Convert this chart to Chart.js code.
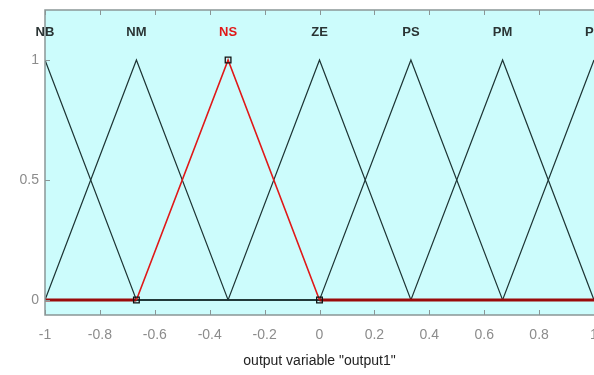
<!DOCTYPE html>
<html>
<head>
<meta charset="utf-8">
<script src="https://cdn.jsdelivr.net/npm/chart.js@4.4.1/dist/chart.umd.min.js"></script>
<style>
  html, body { margin: 0; padding: 0; background: #fff; }
</style>
</head>
<body>
<canvas id="myChart" width="594" height="375"></canvas>
<script>
// membership functions of the output variable (trimf a, b, c)
const mfNames = ['NB', 'NM', 'NS', 'ZE', 'PS', 'PM', 'PB'];
const mfParams = [
    [-1.333, -1, -0.667],
    [-1, -0.667, -0.333],
    [-0.667, -0.333, 0],
    [-0.333, 0, 0.333],
    [0, 0.333, 0.667],
    [0.333, 0.667, 1],
    [0.667, 1, 1.333]
];
const selectedMf = 2;
const xRange = [-1, 1];
const xTicks = [-1, -0.8, -0.6, -0.4, -0.2, 0, 0.2, 0.4, 0.6, 0.8, 1];
const yTicks = [0, 0.5, 1];
const axisTitle = 'output variable "output1"';

let trimf = (x, p) => {
    let [a, b, c] = p;
    if (x <= a || x >= c) return 0;
    if (x === b) return 1;
    return x < b ? (x - a) / (b - a) : (c - x) / (c - b);
}

// breakpoints of one MF inside the range
let mfPoints = p => {
    let xs = [xRange[0], p[0], p[1], p[2], xRange[1]]
        .filter(x => x >= xRange[0] && x <= xRange[1])
        .sort((a, b) => a - b);
    return xs.map(x => ({ x: x, y: trimf(x, p) }));
}

let datasets = [];
mfParams.forEach((p, i) => {
    if (i === selectedMf) return;
    datasets.push({
        data: mfPoints(p),
        showLine: true,
        borderColor: '#1d3434',
        borderWidth: 1.2,
        pointRadius: 0,
        order: 3
    });
});
let sel = mfParams[selectedMf];
datasets.push({
    data: mfPoints(sel),
    showLine: true,
    borderColor: '#e01818',
    borderWidth: 1.6,
    pointRadius: 0,
    order: 2,
    segment: {
        borderColor: c => (c.p0.parsed.y === 0 && c.p1.parsed.y === 0) ? '#9a0a0a' : undefined,
        borderWidth: c => (c.p0.parsed.y === 0 && c.p1.parsed.y === 0) ? 3 : undefined
    }
});
datasets.push({
    data: sel.map(x => ({ x: x, y: trimf(x, sel) })),
    showLine: false,
    pointStyle: 'rect',
    pointRadius: 4,
    pointBackgroundColor: 'rgba(0,0,0,0)',
    pointBorderColor: '#111',
    pointBorderWidth: 1.3,
    order: 1
});

const frameColor = '#8a9696';

const mfPlot = {
    id: 'mfPlot',
    beforeDatasetsDraw(chart) {
        let { ctx, chartArea: a } = chart;
        ctx.save();
        ctx.fillStyle = '#ccfcfc';
        ctx.fillRect(a.left, a.top, a.right - a.left, a.bottom - a.top);
        ctx.restore();
    },
    afterDatasetsDraw(chart) {
        let { ctx, chartArea: a, scales } = chart;
        let xs = scales.x, ys = scales.y;
        ctx.save();
        // box
        ctx.strokeStyle = frameColor;
        ctx.lineWidth = 1.5;
        ctx.strokeRect(a.left, a.top, a.right - a.left + 2, a.bottom - a.top);
        // inward ticks
        ctx.lineWidth = 1;
        ctx.beginPath();
        xTicks.forEach(v => {
            let px = Math.round(xs.getPixelForValue(v)) + 0.5;
            ctx.moveTo(px, a.bottom); ctx.lineTo(px, a.bottom - 5);
            ctx.moveTo(px, a.top); ctx.lineTo(px, a.top + 5);
        });
        yTicks.forEach(v => {
            let py = Math.round(ys.getPixelForValue(v)) + 0.5;
            ctx.moveTo(a.left, py); ctx.lineTo(a.left + 5, py);
        });
        ctx.stroke();
        // MF names
        ctx.font = 'bold 13px "Liberation Sans", Arial, sans-serif';
        ctx.textAlign = 'center';
        ctx.textBaseline = 'middle';
        mfNames.forEach((name, i) => {
            ctx.fillStyle = i === selectedMf ? '#e01818' : '#2a3434';
            ctx.fillText(name, xs.getPixelForValue(mfParams[i][1]), ys.getPixelForValue(1.115));
        });
        ctx.restore();
    }
};

new Chart(document.getElementById('myChart'), {
    type: 'scatter',
    data: { datasets: datasets },
    options: {
        responsive: false,
        animation: false,
        layout: { autoPadding: false, padding: { top: 10, right: 0, left: 0, bottom: 0 } },
        plugins: { legend: { display: false }, tooltip: { enabled: false } },
        scales: {
            x: {
                min: xRange[0],
                max: xRange[1],
                grid: { display: false, drawTicks: false },
                border: { display: false },
                afterBuildTicks: s => { s.ticks = xTicks.map(v => ({ value: v })); },
                ticks: {
                    padding: 12,
                    color: '#8c8c8c',
                    font: { size: 14, family: '"Liberation Sans", Arial, sans-serif' },
                    maxRotation: 0,
                    autoSkip: false,
                    callback: v => String(Math.round(v * 10) / 10)
                },
                title: {
                    display: true,
                    text: axisTitle,
                    color: '#222',
                    padding: { top: 0, bottom: 5 },
                    font: { size: 14, family: '"Liberation Sans", Arial, sans-serif' }
                },
                afterFit: s => { s.height = 60; s.paddingLeft = 0; s.paddingRight = 0; }
            },
            y: {
                min: -0.0625,
                max: 1.2083,
                grid: { display: false, drawTicks: false },
                border: { display: false },
                afterBuildTicks: s => { s.ticks = yTicks.map(v => ({ value: v })); },
                ticks: {
                    padding: 6,
                    color: '#8c8c8c',
                    font: { size: 14, family: '"Liberation Sans", Arial, sans-serif' },
                    callback: v => String(v)
                },
                afterFit: s => { s.width = 45; s.paddingTop = 0; s.paddingBottom = 0; }
            }
        }
    },
    plugins: [mfPlot]
});
</script>
</body>
</html>
